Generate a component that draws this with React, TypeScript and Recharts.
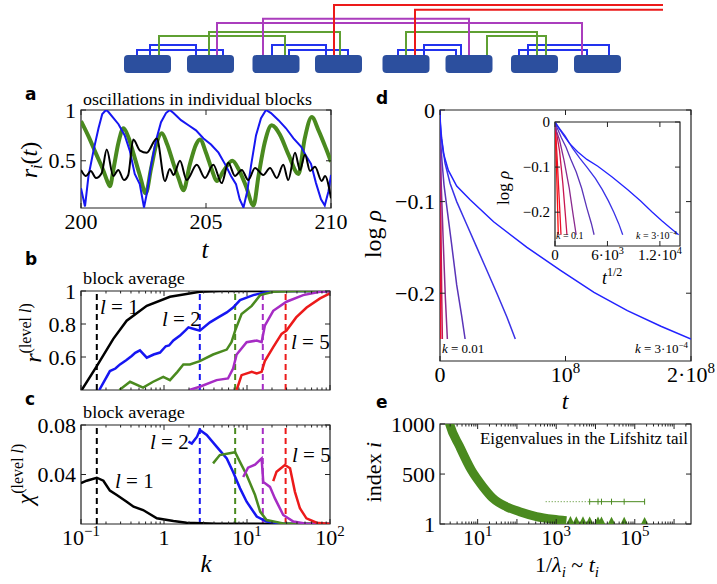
import React from "react"
import { LineChart, Line, XAxis, YAxis, ReferenceLine, ReferenceArea } from "recharts"

const SERIF = "'Liberation Serif', 'DejaVu Serif', serif"
const SANS = "'DejaVu Sans', 'Liberation Sans', sans-serif"

const BLUE = "#1616f2"
const GREEN = "#4a8a1f"
const PURPLE = "#a62cc4"
const RED = "#ec1a1a"
const BLOCK = "#2c4f9e"
const TREE_BLUE = "#2233ee"
const TREE_GREEN = "#5fa032"
const TREE_PURPLE = "#aa3dbd"

type Pt = [number, number]

// ---- top schematic: block centres and couplings [from, to, height]
const blockCenters = [147.5, 210.5, 276, 338.5, 406, 469, 534.5, 597.5]
const blueLinks = [[137, 223, 50], [150, 196, 45], [272, 326, 45], [289, 348, 50], [398, 456, 50], [424, 461, 45], [519, 587, 50], [528, 609, 45]]
const greenLinks = [[159, 285, 36], [209, 340, 32], [406, 537, 32], [487, 546, 36]]
const purpleLinks = [[263, 469, 18.7], [217, 582, 23]]
const redLinks = [[334, 5], [415, 9.7]]
const redEnd = 663

// ---- panel a: r_i(t)
const aBlue: Pt[] = [[200, 0.23], [200.16, 0.05], [200.3, 0.35], [200.5, 0.6], [200.7, 0.82], [200.85, 0.96], [201.0, 1.0], [201.1, 0.98], [201.3, 0.92], [201.5, 0.86], [201.75, 0.75], [201.95, 0.6], [202.15, 0.37], [202.35, 0.27], [202.52, 0.04], [202.65, 0.2], [202.8, 0.45], [203.0, 0.7], [203.2, 0.88], [203.4, 0.97], [203.55, 1.0], [203.7, 0.97], [204.0, 0.9], [204.3, 0.85], [204.6, 0.8], [204.9, 0.72], [205.2, 0.66], [205.5, 0.58], [205.8, 0.45], [206.0, 0.35], [206.2, 0.27], [206.35, 0.12], [206.5, 0.04], [206.65, 0.2], [206.8, 0.45], [207.0, 0.75], [207.2, 0.92], [207.4, 1.0], [207.6, 0.97], [207.9, 0.9], [208.2, 0.82], [208.5, 0.72], [208.8, 0.64], [209.0, 0.55], [209.2, 0.47], [209.4, 0.28], [209.6, 0.12], [209.75, 0.06], [209.9, 0.2], [210, 0.36]]
const aGreen: Pt[] = [[200, 0.89], [200.3, 0.74], [200.6, 0.57], [200.9, 0.4], [201.05, 0.3], [201.16, 0.25], [201.3, 0.42], [201.5, 0.68], [201.7, 0.82], [201.9, 0.73], [202.1, 0.57], [202.35, 0.36], [202.59, 0.18], [202.8, 0.42], [203.0, 0.65], [203.23, 0.77], [203.45, 0.66], [203.7, 0.47], [203.9, 0.33], [204.1, 0.21], [204.35, 0.46], [204.6, 0.66], [204.76, 0.71], [205.0, 0.58], [205.25, 0.4], [205.43, 0.3], [205.7, 0.4], [206.05, 0.5], [206.3, 0.42], [206.6, 0.25], [206.9, 0.06], [207.1, 0.35], [207.35, 0.68], [207.63, 0.85], [207.95, 0.76], [208.3, 0.56], [208.7, 0.37], [208.95, 0.72], [209.23, 0.93], [209.5, 0.8], [209.8, 0.62], [210, 0.49]]
const aBlack: Pt[] = [[200, 0.41], [200.2, 0.35], [200.39, 0.4], [200.6, 0.33], [200.83, 0.38], [201.03, 0.61], [201.29, 0.35], [201.49, 0.41], [201.72, 0.31], [201.89, 0.36], [202.09, 0.71], [202.36, 0.6], [202.63, 0.58], [203.03, 0.72], [203.36, 0.3], [203.55, 0.42], [203.7, 0.36], [203.96, 0.5], [204.23, 0.31], [204.63, 0.46], [204.96, 0.33], [205.29, 0.46], [205.63, 0.28], [205.89, 0.48], [206.16, 0.35], [206.43, 0.41], [206.69, 0.31], [206.96, 0.43], [207.29, 0.36], [207.56, 0.43], [207.83, 0.33], [208.09, 0.46], [208.29, 0.31], [208.56, 0.58], [208.76, 0.41], [208.96, 0.56], [209.16, 0.4], [209.36, 0.44], [209.63, 0.3], [209.76, 0.35], [210, 0.13]]

// ---- panel b: r^(level l) vs k
const bBlack: Pt[] = [[0.1, 0.385], [0.102, 0.4], [0.155, 0.545], [0.245, 0.71], [0.355, 0.82], [0.62, 0.91], [1.18, 0.965], [2.7, 0.995], [5, 1.0], [100, 1.0]]
const bBlue: Pt[] = [[0.166, 0.4], [0.223, 0.515], [0.26, 0.53], [0.295, 0.555], [0.35, 0.58], [0.408, 0.606], [0.45, 0.625], [0.513, 0.64], [0.62, 0.596], [0.75, 0.615], [0.895, 0.627], [1.05, 0.665], [1.15, 0.67], [1.296, 0.7], [1.56, 0.73], [1.8, 0.76], [1.97, 0.78], [2.3, 0.77], [2.7, 0.76], [3.58, 0.81], [4.5, 0.84], [5.7, 0.87], [6.8, 0.9], [8.25, 0.945], [11.9, 0.975], [15.7, 0.99], [25, 1.0], [100, 1.0]]
const bGreen: Pt[] = [[0.29, 0.4], [0.39, 0.45], [0.56, 0.415], [0.74, 0.45], [0.98, 0.48], [1.18, 0.46], [1.45, 0.51], [1.71, 0.555], [2.05, 0.555], [2.7, 0.575], [3.9, 0.615], [5.7, 0.645], [6.5, 0.69], [7.2, 0.76], [8.6, 0.86], [11.4, 0.91], [14.4, 0.975], [20.7, 0.995], [40, 1.0], [100, 1.0]]
const bPurple: Pt[] = [[2.02, 0.4], [2.7, 0.42], [4.3, 0.46], [5.9, 0.47], [6.8, 0.53], [7.5, 0.615], [9.9, 0.69], [13.1, 0.7], [15.0, 0.69], [16.4, 0.79], [20.7, 0.88], [29.9, 0.935], [47.5, 0.975], [75.9, 0.995], [100, 0.998]]
const bRed: Pt[] = [[7.5, 0.4], [8.6, 0.49], [11.4, 0.51], [13.1, 0.5], [15.0, 0.51], [16.4, 0.575], [20.7, 0.66], [26.1, 0.74], [29.9, 0.76], [39.1, 0.84], [52.3, 0.9], [75.9, 0.955], [100, 0.985]]

// ---- panel c: chi^(level l) vs k
const cBlack: Pt[] = [[0.1, 0.033], [0.117, 0.035], [0.155, 0.0374], [0.186, 0.035], [0.223, 0.027], [0.27, 0.0234], [0.355, 0.018], [0.43, 0.014], [0.56, 0.0113], [0.82, 0.0046], [1.3, 0.0024], [1.87, 0.001], [4.3, 0.0003], [100, 0]]
const cBlue: Pt[] = [[1.97, 0.0665], [2.16, 0.065], [2.5, 0.0706], [2.7, 0.076], [3.27, 0.072], [4.3, 0.0625], [5.7, 0.053], [6.8, 0.042], [8.25, 0.0288], [9.9, 0.018], [13.1, 0.006], [17.2, 0.002], [27.3, 0.0002], [100, 0]]
const cGreen: Pt[] = [[3.9, 0.049], [4.7, 0.0557], [7.2, 0.058], [8.25, 0.05], [9.9, 0.0396], [12.5, 0.0234], [14.4, 0.01], [17.2, 0.0032], [27.3, 0.0005], [100, 0]]
const cPurple: Pt[] = [[9.0, 0.038], [10.3, 0.0455], [12.5, 0.048], [15, 0.053], [15.7, 0.034], [18.9, 0.03], [21.7, 0.0207], [27.3, 0.0073], [36.2, 0.002], [52, 0.0003], [100, 0]]
const cRed: Pt[] = [[20.7, 0.0347], [22.7, 0.0423], [28.6, 0.0477], [33, 0.045], [37.8, 0.026], [43.4, 0.0127], [52, 0.0046], [69, 0.001], [100, 0]]

// critical couplings (dashed lines), level 1..5
const critK = [0.155, 2.7, 7.2, 15.5, 29.2]
const levelColors = ["#000", BLUE, GREEN, PURPLE, RED]

// ---- panel d: log rho vs t, from k = 0.1 (red) to k = 3e-4 (blue)
const dK01: Pt[] = [[0, 0], [5e3, -0.04], [3e4, -0.1], [8e4, -0.18], [1.4e5, -0.25]]
const dK005: Pt[] = [[0, 0], [1e4, -0.03], [6e4, -0.08], [1.6e5, -0.14], [3e5, -0.195], [4.7e5, -0.25]]
const dK003: Pt[] = [[0, 0], [2e4, -0.02], [2.7e5, -0.064], [8e5, -0.136], [1.33e6, -0.198], [1.87e6, -0.25]]
const dK001: Pt[] = [[0, 0], [2.7e4, -0.02], [2.7e5, -0.04], [1.07e6, -0.085], [2.67e6, -0.147], [4.27e6, -0.205], [5.87e6, -0.25]]
const dK0003: Pt[] = [[0, 0], [5.3e4, -0.012], [5.3e5, -0.035], [1.6e6, -0.056], [3.2e6, -0.082], [5.9e6, -0.111], [9.3e6, -0.147], [1.33e7, -0.191], [1.73e7, -0.225], [2e7, -0.25]]
const dK0001: Pt[] = [[0, 0], [3e5, -0.015], [1.33e6, -0.031], [4e6, -0.058], [8e6, -0.08], [1.33e7, -0.1], [2.13e7, -0.125], [2.93e7, -0.15], [3.73e7, -0.175], [4.53e7, -0.2], [5.33e7, -0.226], [6e7, -0.25]]
const dK00003: Pt[] = [[0, 0], [1e5, -0.01], [8e5, -0.027], [2.67e6, -0.047], [6.67e6, -0.066], [1.33e7, -0.083], [2.4e7, -0.098], [4.27e7, -0.122], [6.93e7, -0.15], [9.6e7, -0.175], [1.227e8, -0.199], [1.493e8, -0.219], [1.76e8, -0.236], [2e8, -0.25]]
const dCurves = [dK01, dK005, dK003, dK001, dK0003, dK0001, dK00003]
const dColors = ["#ff0a0a", "#e8102a", "#c81650", "#8a2a8e", "#5a34b8", "#3a32e6", "#2222ff"]

// ---- panel e: index i vs 1/lambda_i
const eBand: Pt[] = [[1.7, 1090], [1.94, 1000], [3.5, 773], [6.9, 540], [13.6, 374], [24.5, 258], [53.7, 174], [117, 124], [314, 75], [830, 48], [1820, 34]]
const eTail: Pt[] = [[2300, 10], [3250, 9], [4800, 8], [7100, 7], [11600, 6], [14200, 5], [25600, 4], [53700, 3], [178000, 2]]
const eBarDotted: Pt[] = [[540, 224], [7100, 224]]
const eBarSolid: Pt[] = [[7100, 224], [11600, 224], [14200, 224], [25600, 224], [53700, 224], [178000, 224]]

const toXY = (pts: Pt[]) => pts.map(([x, y]) => ({ x, y }))

const logTicks = (e0: number, e1: number, lo: number, hi: number) => {
  const out: number[] = []
  for (let e = e0; e <= e1; e++) for (let m = 1; m <= 9; m++) out.push(m * Math.pow(10, e))
  return out.filter((v) => v >= lo * 0.999 && v <= hi * 1.001)
}
const isDecade = (v: number) => Math.abs(Math.log10(v) - Math.round(Math.log10(v))) < 1e-6

const sup = (base: string, exp: string, fs: number) => (
  <>
    <tspan>{base}</tspan>
    <tspan dy={-fs * 0.42} fontSize={fs * 0.68}>{exp}</tspan>
  </>
)

interface Box { left: number; top: number; w: number; h: number }

const A: Box = { left: 81, top: 110, w: 250, h: 98 }
const B: Box = { left: 81, top: 291, w: 249, h: 99 }
const C: Box = { left: 81, top: 425, w: 249, h: 99 }
const D: Box = { left: 440, top: 110, w: 251, h: 251 }
const I: Box = { left: 555, top: 122, w: 125, h: 124 }
const E: Box = { left: 440, top: 424, w: 251, h: 100 }

const PL = 78, PR = 30, PT = 22, PB = 40

interface PanelProps {
  box: Box
  xDomain: [number, number]
  yDomain: [number, number]
  xLog?: boolean
  xTicks: number[]
  yTicks: number[]
  xLabel?: (v: number) => React.ReactNode
  yLabel?: (v: number) => React.ReactNode
  fs: number
  children?: React.ReactNode
}

function Panel({ box, xDomain, yDomain, xLog, xTicks, yTicks, xLabel, yLabel, fs, children }: PanelProps) {
  const xTick = (p: any) => {
    const v = p.payload.value
    const major = xLog ? isDecade(v) : true
    const len = major ? 5 : 2.5
    const lab = major && xLabel ? xLabel(v) : null
    return (
      <g>
        <line x1={p.x} x2={p.x} y1={p.y} y2={p.y - len} stroke="#222" />
        <line x1={p.x} x2={p.x} y1={p.y - box.h} y2={p.y - box.h + len} stroke="#222" />
        {lab != null && (
          <text x={p.x} y={p.y + fs - 1} textAnchor="middle" fontFamily={SERIF} fontSize={fs} fill="#000">
            {lab}
          </text>
        )}
      </g>
    )
  }
  const yTick = (p: any) => {
    const v = p.payload.value
    const lab = yLabel ? yLabel(v) : null
    return (
      <g>
        <line x1={p.x} x2={p.x + 5} y1={p.y} y2={p.y} stroke="#222" />
        <line x1={p.x + box.w} x2={p.x + box.w - 5} y1={p.y} y2={p.y} stroke="#222" />
        {lab != null && (
          <text x={p.x - 5} y={p.y} dy="0.35em" textAnchor="end" fontFamily={SERIF} fontSize={fs} fill="#000">
            {lab}
          </text>
        )}
      </g>
    )
  }
  return (
    <div style={{ position: "absolute", left: box.left - PL, top: box.top - PT }}>
      <LineChart width={box.w + PL + PR} height={box.h + PT + PB} margin={{ top: PT, right: PR, bottom: 0, left: 0 }}>
        <XAxis dataKey="x" type="number" scale={xLog ? "log" : "linear"} domain={xDomain} allowDataOverflow ticks={xTicks} interval={0} height={PB} axisLine={false} tickLine={false} tickSize={0} tickMargin={0} tick={xTick} />
        <YAxis type="number" domain={yDomain} allowDataOverflow ticks={yTicks} interval={0} width={PL} axisLine={false} tickLine={false} tickSize={0} tickMargin={0} tick={yTick} />
        {children}
        <ReferenceArea x1={xDomain[0]} x2={xDomain[1]} y1={yDomain[0]} y2={yDomain[1]} fill="none" fillOpacity={0} stroke="#222" strokeWidth={1.2} ifOverflow="visible" />
      </LineChart>
    </div>
  )
}

const series = (pts: Pt[], color: string, width: number, key: string, type: "linear" | "monotone" = "linear") => (
  <Line key={key} data={toXY(pts)} dataKey="y" stroke={color} strokeWidth={width} type={type} dot={false} activeDot={false} isAnimationActive={false} />
)

function Tree() {
  const top = 55
  const bracket = (x1: number, x2: number, h: number) => [{ x: x1, y: top }, { x: x1, y: h }, { x: x2, y: h }, { x: x2, y: top }]
  const draw = (links: number[][], color: string, name: string) =>
    links.map((l, i) => (
      <Line key={name + i} data={bracket(l[0], l[1], l[2])} dataKey="y" stroke={color} strokeWidth={2} type="linear" dot={false} activeDot={false} isAnimationActive={false} />
    ))
  return (
    <div style={{ position: "absolute", left: 0, top: 0 }}>
      <LineChart width={717} height={80} margin={{ top: 0, right: 0, bottom: 0, left: 0 }}>
        <XAxis dataKey="x" type="number" domain={[0, 717]} hide allowDataOverflow />
        <YAxis type="number" domain={[0, 80]} reversed hide allowDataOverflow />
        {draw(blueLinks, TREE_BLUE, "b")}
        {draw(greenLinks, TREE_GREEN, "g")}
        {draw(purpleLinks, TREE_PURPLE, "p")}
        {redLinks.map((l, i) => (
          <Line key={"r" + i} data={[{ x: l[0], y: top }, { x: l[0], y: l[1] }, { x: redEnd, y: l[1] }]} dataKey="y" stroke={RED} strokeWidth={2} type="linear" dot={false} activeDot={false} isAnimationActive={false} />
        ))}
        {blockCenters.map((c) => (
          <ReferenceArea key={"blk" + c} x1={c - 23.5} x2={c + 23.5} y1={55} y2={73} fill={BLOCK} fillOpacity={1} stroke="none" radius={4} ifOverflow="visible" />
        ))}
      </LineChart>
    </div>
  )
}

const FS = 22
const kTicks = logTicks(-1, 2, 0.1, 100)
const eTicks = logTicks(0, 6, 1.1, 2.7e6)
const kLabel = (v: number) =>
  Math.abs(v - 0.1) < 1e-9 ? sup("10", "−1", FS) : Math.abs(v - 1) < 1e-9 ? "1" : Math.abs(v - 10) < 1e-9 ? sup("10", "1", FS) : Math.abs(v - 100) < 1e-9 ? sup("10", "2", FS) : null
const rhoLabel = (v: number) => (v === 0 ? "0" : "−" + Math.abs(v).toFixed(1))

// triangle markers sit on the lower spine, so only their upper half shows
const triDot = (p: any) => (
  <path key={"tri" + p.index} d={`M${p.cx},${p.cy - 7} L${p.cx + 4},${p.cy + 1} L${p.cx - 4},${p.cy + 1} Z`} fill={GREEN} />
)
const barTick = (p: any) => (
  <line key={"bt" + p.index} x1={p.cx} x2={p.cx} y1={p.cy - 3} y2={p.cy + 3} stroke={GREEN} strokeWidth={1} />
)

function Labels() {
  const it = { fontStyle: "italic" as const }
  return (
    <svg width={717} height={584} style={{ position: "absolute", left: 0, top: 0, pointerEvents: "none" }}>
      <g fontFamily={SANS} fontWeight="bold" fontSize={17}>
        <text x={25} y={100}>a</text>
        <text x={25} y={265}>b</text>
        <text x={25} y={405}>c</text>
        <text x={376} y={104}>d</text>
        <text x={376} y={408}>e</text>
      </g>
      <g fontFamily={SERIF} fill="#000">
        <text x={83} y={105} fontSize={17} textLength={229} lengthAdjust="spacingAndGlyphs">oscillations in individual blocks</text>
        <text x={83} y={284} fontSize={17} textLength={102} lengthAdjust="spacingAndGlyphs">block average</text>
        <text x={83} y={418} fontSize={17} textLength={102} lengthAdjust="spacingAndGlyphs">block average</text>

        <text x={205} y={258} fontSize={25} textAnchor="middle" {...it}>t</text>
        <text x={206} y={572} fontSize={25} textAnchor="middle" {...it}>k</text>
        <text x={565} y={409} fontSize={24} textAnchor="middle" {...it}>t</text>
        <text x={567} y={572} fontSize={22} textAnchor="middle">
          1/<tspan {...it}>λ</tspan><tspan dy={5} fontSize={15} {...it}>i</tspan><tspan dy={-5}> ~ </tspan><tspan {...it}>t</tspan><tspan dy={5} fontSize={15} {...it}>i</tspan>
        </text>

        <text transform="translate(37,160) rotate(-90)" fontSize={24} textAnchor="middle">
          <tspan {...it}>r</tspan><tspan dy={5} fontSize={16} {...it}>i</tspan><tspan dy={-5}>(</tspan><tspan {...it}>t</tspan>)
        </text>
        <text transform="translate(41,333) rotate(-90)" fontSize={24} textAnchor="middle">
          <tspan {...it}>r</tspan><tspan dy={-10} fontSize={16}>(level </tspan><tspan fontSize={16} {...it}>l</tspan><tspan fontSize={16}>)</tspan>
        </text>
        <text transform="translate(33,474) rotate(-90)" fontSize={24} textAnchor="middle">
          <tspan {...it}>χ</tspan><tspan dy={-10} fontSize={16}>(level </tspan><tspan fontSize={16} {...it}>l</tspan><tspan fontSize={16}>)</tspan>
        </text>
        <text transform="translate(381,234) rotate(-90)" fontSize={24} textAnchor="middle">
          log <tspan {...it}>ρ</tspan>
        </text>
        <text transform="translate(381,472) rotate(-90)" fontSize={22} textAnchor="middle">
          index <tspan {...it}>i</tspan>
        </text>
        <text transform="translate(509,188) rotate(-90)" fontSize={17} textAnchor="middle">
          log <tspan {...it}>ρ</tspan>
        </text>
        <text x={602} y={284} fontSize={18}>
          <tspan {...it}>t</tspan><tspan dy={-8} fontSize={12}>1/2</tspan>
        </text>

        <text x={100} y={314} fontSize={21}><tspan {...it}>l</tspan> = 1</text>
        <text x={162} y={326} fontSize={21}><tspan {...it}>l</tspan> = 2</text>
        <text x={291} y={349} fontSize={21}><tspan {...it}>l</tspan> = 5</text>
        <text x={150} y={449} fontSize={21}><tspan {...it}>l</tspan> = 2</text>
        <text x={115} y={488} fontSize={21}><tspan {...it}>l</tspan> = 1</text>
        <text x={292} y={462} fontSize={21}><tspan {...it}>l</tspan> = 5</text>

        <text x={442} y={353} fontSize={13}><tspan {...it}>k</tspan> = 0.01</text>
        <text x={688} y={353} fontSize={13} textAnchor="end">
          <tspan {...it}>k</tspan> = 3·10<tspan dy={-5} fontSize={9}>−4</tspan>
        </text>
        <text x={556} y={239} fontSize={10}><tspan {...it}>k</tspan> = 0.1</text>
        <text x={677} y={239} fontSize={10} textAnchor="end">
          <tspan {...it}>k</tspan> = 3·10<tspan dy={-4} fontSize={7}>−4</tspan>
        </text>
        <text x={480} y={444} fontSize={16} textLength={208} lengthAdjust="spacingAndGlyphs">Eigenvalues in the Lifshitz tail</text>
      </g>
    </svg>
  )
}

export default function App() {
  return (
    <div style={{ position: "absolute", left: 0, top: 0, width: 717, height: 584, background: "#fff", overflow: "hidden" }}>
      <Tree />

      <Panel box={A} xDomain={[200, 210]} yDomain={[0.035, 1]} xTicks={[200, 205, 210]} yTicks={[0.5, 1]} xLabel={(v) => String(v)} yLabel={(v) => (v === 1 ? "1" : "0.5")} fs={FS}>
        {series(aGreen, GREEN, 4, "ag", "monotone")}
        {series(aBlue, BLUE, 2, "ab")}
        {series(aBlack, "#000", 2, "ak", "monotone")}
      </Panel>

      <Panel box={B} xDomain={[0.1, 100]} yDomain={[0.4, 1]} xLog xTicks={kTicks} yTicks={[0.6, 0.8, 1]} yLabel={(v) => (v === 1 ? "1" : v.toFixed(1))} fs={FS}>
        {critK.map((k, i) => (
          <ReferenceLine key={"bd" + i} x={k} stroke={levelColors[i]} strokeWidth={2} strokeDasharray="6 4" />
        ))}
        {series(bBlack, "#000", 2.5, "b1")}
        {series(bBlue, BLUE, 2.5, "b2")}
        {series(bGreen, GREEN, 2.5, "b3")}
        {series(bPurple, PURPLE, 2.5, "b4")}
        {series(bRed, RED, 2.5, "b5")}
      </Panel>

      <Panel box={C} xDomain={[0.1, 100]} yDomain={[0, 0.08]} xLog xTicks={kTicks} yTicks={[0.04, 0.08]} xLabel={kLabel} yLabel={(v) => v.toFixed(2)} fs={FS}>
        {critK.map((k, i) => (
          <ReferenceLine key={"cd" + i} x={k} stroke={levelColors[i]} strokeWidth={2} strokeDasharray="6 4" />
        ))}
        {series(cBlack, "#000", 2.5, "c1")}
        {series(cBlue, BLUE, 2.5, "c2")}
        {series(cGreen, GREEN, 2.5, "c3")}
        {series(cPurple, PURPLE, 2.5, "c4")}
        {series(cRed, RED, 2.5, "c5")}
      </Panel>

      <Panel box={D} xDomain={[0, 2e8]} yDomain={[-0.274, 0]} xTicks={[0, 1e8, 2e8]} yTicks={[-0.2, -0.1, 0]} xLabel={(v) => (v === 0 ? "0" : v === 1e8 ? sup("10", "8", FS) : sup("2·10", "8", FS))} yLabel={rhoLabel} fs={FS}>
        {dCurves.map((c, i) => series(c, dColors[i], 1.5, "d" + i))}
      </Panel>

      <div style={{ position: "absolute", left: I.left, top: I.top, width: I.w, height: I.h, background: "#fff" }} />
      <Panel box={I} xDomain={[0, 14300]} yDomain={[-0.275, 0]} xTicks={[0, 6000, 12000]} yTicks={[-0.2, -0.1, 0]} xLabel={(v) => (v === 0 ? "0" : v === 6000 ? sup("6·10", "3", 15) : sup("1.2·10", "4", 15))} yLabel={rhoLabel} fs={15}>
        {dCurves.map((c, i) => (
          <Line key={"i" + i} data={c.map(([t, v]) => ({ x: Math.sqrt(t), y: v }))} dataKey="y" stroke={dColors[i]} strokeWidth={1.3} type="linear" dot={false} activeDot={false} isAnimationActive={false} />
        ))}
      </Panel>

      <Panel box={E} xDomain={[1.1, 2.7e6]} yDomain={[1, 1000]} xLog xTicks={eTicks} yTicks={[1, 500, 1000]} xLabel={(v) => (Math.abs(v - 10) < 1e-6 ? sup("10", "1", FS) : Math.abs(v - 1000) < 1e-6 ? sup("10", "3", FS) : Math.abs(v - 1e5) < 1e-3 ? sup("10", "5", FS) : null)} yLabel={(v) => String(v)} fs={FS}>
        {series(eBand, GREEN, 9, "eb", "monotone")}
        <Line data={toXY(eTail)} dataKey="y" stroke="none" dot={triDot} activeDot={false} isAnimationActive={false} />
        <Line data={toXY(eBarDotted)} dataKey="y" stroke={GREEN} strokeWidth={1} strokeDasharray="1 2" dot={false} activeDot={false} isAnimationActive={false} />
        <Line data={toXY(eBarSolid)} dataKey="y" stroke={GREEN} strokeWidth={1} dot={barTick} activeDot={false} isAnimationActive={false} />
      </Panel>

      <Labels />
    </div>
  )
}
